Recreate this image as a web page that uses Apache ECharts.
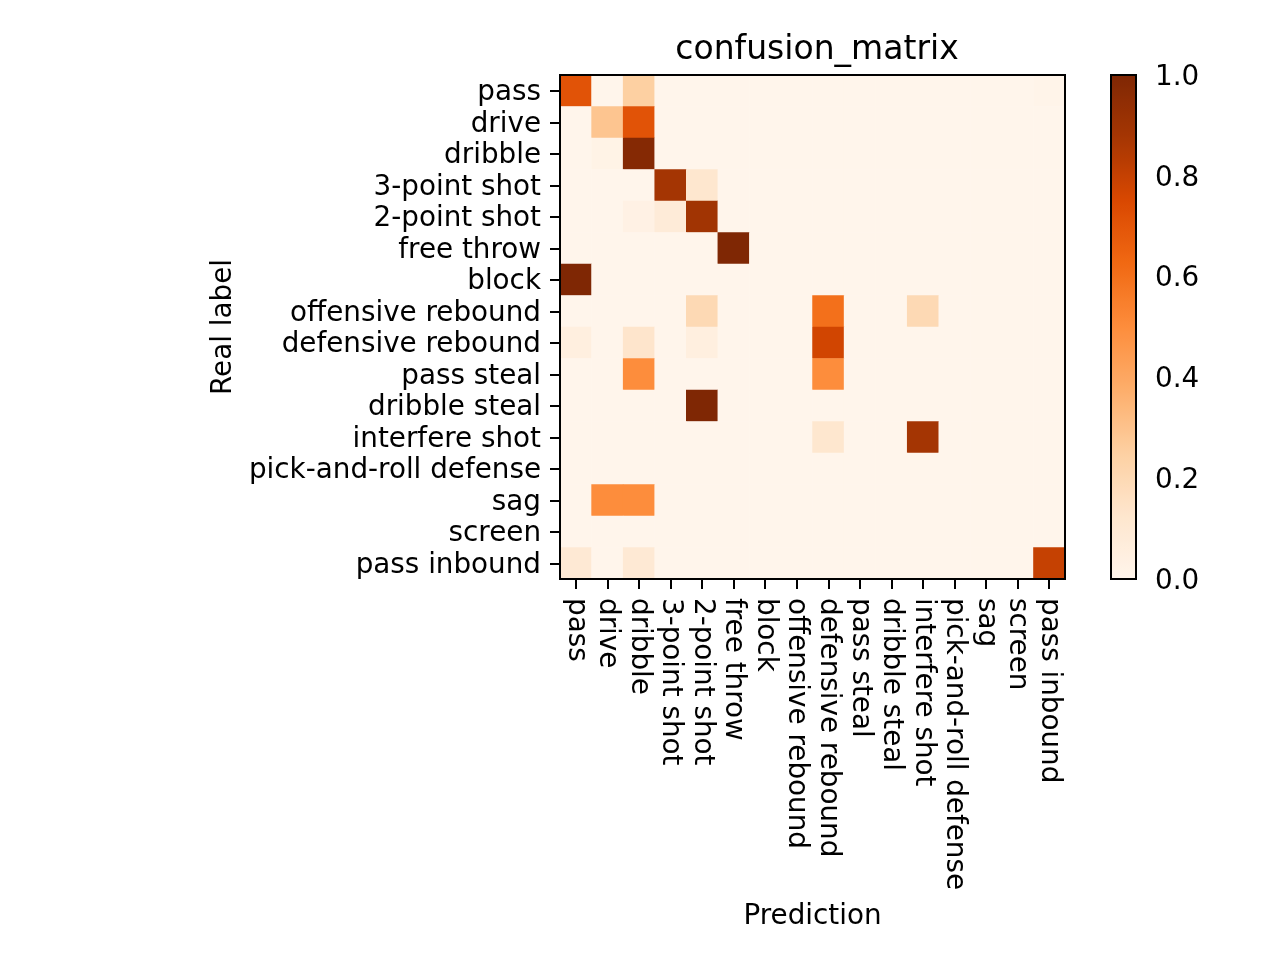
<!DOCTYPE html>
<html>
<head>
<meta charset="utf-8">
<script src="https://cdn.jsdelivr.net/npm/echarts@6/dist/echarts.min.js"></script>
<style>
  html, body { margin: 0; padding: 0; background: #fff; }
  #main { width: 1280px; height: 960px; }
</style>
</head>
<body>
<div id="main"></div>
<script>
// class names (same order on both axes)
const labels = ['pass', 'drive', 'dribble', '3-point shot', '2-point shot', 'free throw', 'block',
    'offensive rebound', 'defensive rebound', 'pass steal', 'dribble steal', 'interfere shot',
    'pick-and-roll defense', 'sag', 'screen', 'pass inbound'];

// normalized confusion matrix, one row per real label
const matrix = [
    [0.71, 0, 0.25, 0, 0, 0, 0, 0, 0, 0, 0, 0, 0, 0, 0, 0.01],
    [0, 0.29, 0.71, 0, 0, 0, 0, 0, 0, 0, 0, 0, 0, 0, 0, 0],
    [0, 0.02, 0.98, 0, 0, 0, 0, 0, 0, 0, 0, 0, 0, 0, 0, 0],
    [0, 0, 0, 0.88, 0.12, 0, 0, 0, 0, 0, 0, 0, 0, 0, 0, 0],
    [0, 0, 0.03, 0.08, 0.89, 0, 0, 0, 0, 0, 0, 0, 0, 0, 0, 0],
    [0, 0, 0, 0, 0, 1.0, 0, 0, 0, 0, 0, 0, 0, 0, 0, 0],
    [1.0, 0, 0, 0, 0, 0, 0, 0, 0, 0, 0, 0, 0, 0, 0, 0],
    [0, 0, 0, 0, 0.2, 0, 0, 0, 0.6, 0, 0, 0.2, 0, 0, 0, 0],
    [0.05, 0, 0.13, 0, 0.05, 0, 0, 0, 0.77, 0, 0, 0, 0, 0, 0, 0],
    [0, 0, 0.5, 0, 0, 0, 0, 0, 0.5, 0, 0, 0, 0, 0, 0, 0],
    [0, 0, 0, 0, 1.0, 0, 0, 0, 0, 0, 0, 0, 0, 0, 0, 0],
    [0, 0, 0, 0, 0, 0, 0, 0, 0.12, 0, 0, 0.88, 0, 0, 0, 0],
    [0, 0, 0, 0, 0, 0, 0, 0, 0, 0, 0, 0, 0, 0, 0, 0],
    [0, 0.5, 0.5, 0, 0, 0, 0, 0, 0, 0, 0, 0, 0, 0, 0, 0],
    [0, 0, 0, 0, 0, 0, 0, 0, 0, 0, 0, 0, 0, 0, 0, 0],
    [0.1, 0, 0.1, 0, 0, 0, 0, 0, 0, 0, 0, 0, 0, 0, 0, 0.8]
];

const colorbarTicks = [0, 0.2, 0.4, 0.6, 0.8, 1.0];

// matplotlib "Oranges"
const oranges = ['#fff5eb', '#fee6ce', '#fdd0a2', '#fdae6b', '#fd8d3c', '#f16913', '#d94801', '#a63603', '#7f2704'];

let cells = [];
for (let r = 0; r < matrix.length; r++) {
    for (let c = 0; c < matrix[r].length; c++) {
        cells.push([c, r, matrix[r][c]]);
    }
}

var myChart = echarts.init(document.getElementById('main'));
const font = 'DejaVu Sans';
const black = '#000';
// rich style used to nudge horizontal tick labels down a little
const nudge = { t: { fontFamily: font, fontSize: 27.8, color: black, padding: [5, 0, 0, 0] } };

var option = {
    backgroundColor: '#fff',
    animation: false,
    textStyle: { fontFamily: font, color: black },
    title: {
        text: 'confusion_matrix',
        left: 812,
        top: 29,
        textAlign: 'center',
        textStyle: { fontFamily: font, fontSize: 33, fontWeight: 'normal', color: black }
    },
    grid: [
        { left: 560, top: 75, width: 505, height: 504, show: true, z: 10,
          backgroundColor: 'transparent', borderColor: black, borderWidth: 2 },
        { left: 1111, top: 75, width: 25, height: 504, show: true, z: 10,
          backgroundColor: 'transparent', borderColor: black, borderWidth: 2 }
    ],
    xAxis: [{
        type: 'category',
        gridIndex: 0,
        data: labels,
        name: 'Prediction',
        nameLocation: 'middle',
        nameGap: 324,
        nameTextStyle: { fontFamily: font, fontSize: 27.8, color: black },
        axisLine: { show: true, lineStyle: { color: black, width: 2 } },
        axisTick: { show: true, alignWithLabel: true, interval: 0, length: 10, lineStyle: { color: black, width: 2 } },
        axisLabel: { interval: 0, rotate: -90, margin: 19, fontFamily: font, fontSize: 27.8, color: black },
        splitLine: { show: false }
    }, {
        type: 'value',
        gridIndex: 1,
        show: false
    }],
    yAxis: [{
        type: 'category',
        gridIndex: 0,
        data: labels,
        inverse: true,
        name: 'Real label',
        nameLocation: 'middle',
        nameRotate: 90,
        nameGap: 322,
        nameTextStyle: { fontFamily: font, fontSize: 27.8, color: black },
        axisLine: { show: true, lineStyle: { color: black, width: 2 } },
        axisTick: { show: true, alignWithLabel: true, interval: 0, length: 10, lineStyle: { color: black, width: 2 } },
        axisLabel: { interval: 0, margin: 19, fontFamily: font, fontSize: 27.8, color: black,
                     formatter: function (v) { return '{t|' + v + '}'; }, rich: nudge },
        splitLine: { show: false }
    }, {
        type: 'value',
        gridIndex: 1,
        position: 'right',
        min: 0,
        max: 1,
        interval: 0.2,
        axisLine: { show: true, lineStyle: { color: black, width: 2 } },
        axisTick: { show: true, length: 10, lineStyle: { color: black, width: 2 } },
        axisLabel: { margin: 19, fontFamily: font, fontSize: 27.8, color: black, rich: nudge,
                     formatter: function (v) {
                         return colorbarTicks.indexOf(+v.toFixed(1)) >= 0 ? '{t|' + v.toFixed(1) + '}' : '';
                     } },
        splitLine: { show: false }
    }],
    visualMap: {
        type: 'continuous',
        min: 0,
        max: 1,
        seriesIndex: 0,
        orient: 'vertical',
        left: 1111,
        top: 75,
        padding: 0,
        itemWidth: 25,
        itemHeight: 504,
        calculable: false,
        hoverLink: false,
        text: null,
        inRange: { color: oranges }
    },
    series: [{
        type: 'heatmap',
        xAxisIndex: 0,
        yAxisIndex: 0,
        data: cells,
        itemStyle: { borderWidth: 0 },
        emphasis: { disabled: true }
    }]
};

myChart.setOption(option);
</script>
</body>
</html>
